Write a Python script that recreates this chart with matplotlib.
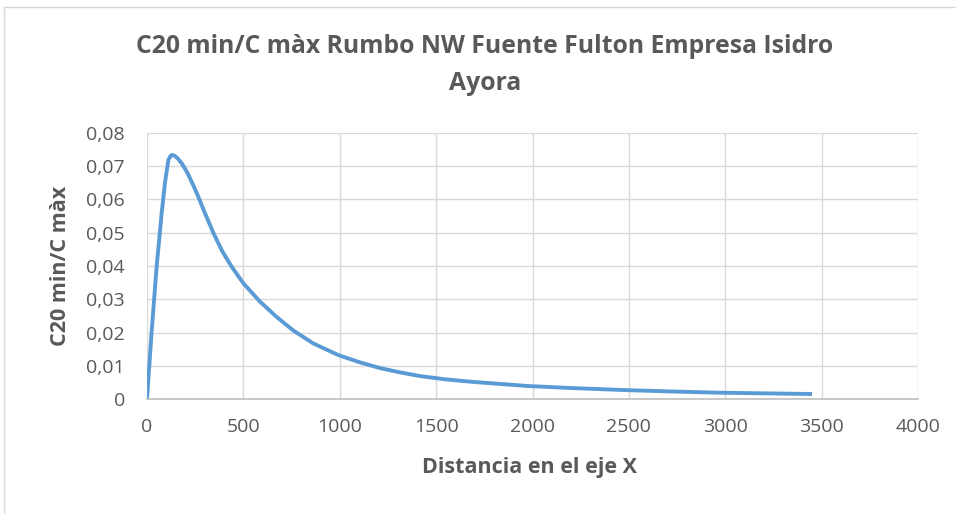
import matplotlib
matplotlib.use("Agg")
import matplotlib.pyplot as plt
from matplotlib.lines import Line2D
from matplotlib.ticker import FuncFormatter, MultipleLocator

# Data
distance = [0, 24, 50, 76, 93, 111, 122, 131, 145, 160, 180, 210, 240, 270, 300, 344,
            390, 439, 500, 586, 670, 759, 863, 993, 1100, 1209, 1313, 1416, 1550,
            1700, 1978, 2200, 2471, 2700, 2964, 3200, 3450]
ratio = [0.0, 0.0202, 0.0398, 0.0558, 0.0649, 0.0719, 0.0731, 0.0734, 0.0731, 0.0723,
         0.0709, 0.0680, 0.0643, 0.0603, 0.0560, 0.0500, 0.0445, 0.0398, 0.0348,
         0.0293, 0.0248, 0.0206, 0.0167, 0.0132, 0.0111, 0.0093, 0.0080, 0.0069,
         0.0059, 0.0051, 0.0039, 0.0033, 0.0027, 0.0023, 0.0019, 0.0017, 0.0015]
x_ticks = [0, 500, 1000, 1500, 2000, 2500, 3000, 3500, 4000]

title = "C20 min/C màx Rumbo NW Fuente Fulton Empresa Isidro\nAyora"
xlabel = "Distancia en el eje X"
ylabel = "C20 min/C màx"

plt.rcParams['font.family'] = ['Open Sans', 'DejaVu Sans']
txt = "#595959"

fig = plt.figure(figsize=(9.56, 5.14), dpi=100)
# chart-area border (left and top edges visible in the reference)
fig.add_artist(Line2D([4/956, 4/956], [0, 1 - 7/514], transform=fig.transFigure,
                      color="#d9d9d9", linewidth=1))
fig.add_artist(Line2D([4/956, 1], [1 - 7/514, 1 - 7/514], transform=fig.transFigure,
                      color="#d9d9d9", linewidth=1))

ax = fig.add_axes([147/956, 1 - 399/514, (918 - 147)/956, (399 - 133)/514])

ax.plot(distance, ratio, color="#5B9BD5", linewidth=2.8,
        solid_capstyle="butt", solid_joinstyle="round")

ax.set_xlim(0, 4000)
ax.set_ylim(0, 0.08)
ax.set_xticks(x_ticks)
ax.yaxis.set_major_locator(MultipleLocator(0.01))
ax.yaxis.set_major_formatter(FuncFormatter(
    lambda v, p: "0" if abs(v) < 1e-9 else f"{v:.2f}".replace(".", ",")))
ax.grid(True, color="#d9d9d9", linewidth=1)
ax.set_axisbelow(True)
for s in ["top", "right", "left"]:
    ax.spines[s].set_visible(False)
ax.spines["bottom"].set_color("#bfbfbf")
ax.spines["bottom"].set_linewidth(1.2)
ax.tick_params(length=0, labelsize=14, labelcolor=txt)
ax.tick_params(axis="x", pad=14)
ax.tick_params(axis="y", pad=16)

fig.text(530/956, 1 - 468/514, xlabel, ha="center", va="center", fontsize=15.5,
         fontweight="bold", color=txt)
fig.text(60/956, 1 - 266/514, ylabel, ha="center", va="center", rotation=90,
         fontsize=15.5, fontweight="bold", color=txt)
fig.text(485/956, 1 - 65/514, title, ha="center", va="center", fontsize=17.8,
         fontweight="bold", color=txt, linespacing=1.62)

fig.savefig("out.png", dpi=100)
